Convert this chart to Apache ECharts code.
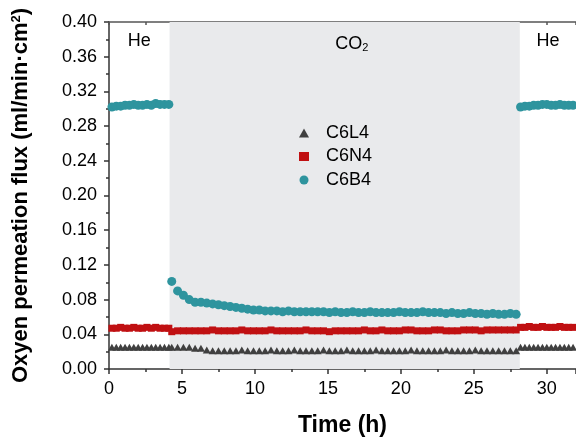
<!DOCTYPE html>
<html>
<head>
<meta charset="utf-8">
<script src="https://cdn.jsdelivr.net/npm/echarts@6.0.0/dist/echarts.min.js"></script>
<style>
  html, body { margin: 0; padding: 0; background: #ffffff; }
  #chart { width: 576px; height: 437px; }
</style>
</head>
<body>
<div id="chart"></div>
<script>
// Sampling times (h): He feed, CO2 feed, He feed again
const timeHours = [
  0.2, 0.5, 0.8, 1.1, 1.4, 1.7, 2.0, 2.3, 2.6, 2.9, 3.2, 3.5, 3.8, 4.1,
  4.3, 4.7, 5.1, 5.5, 5.9, 6.3, 6.7, 7.1, 7.5, 7.9,
  8.3, 8.7, 9.1, 9.5, 9.9, 10.3, 10.7, 11.1, 11.5, 11.9,
  12.3, 12.7, 13.1, 13.5, 13.9, 14.3, 14.7, 15.1, 15.5, 15.9,
  16.3, 16.7, 17.1, 17.5, 17.9, 18.3, 18.7, 19.1, 19.5, 19.9,
  20.3, 20.7, 21.1, 21.5, 21.9, 22.3, 22.7, 23.1, 23.5, 23.9,
  24.3, 24.7, 25.1, 25.5, 25.9, 26.3, 26.7, 27.1, 27.5, 27.9,
  28.2, 28.5, 28.8, 29.1, 29.4, 29.7, 30.0, 30.3, 30.6, 30.9, 31.2, 31.5, 31.8
];

// Oxygen permeation flux, ml/(min·cm2)
const fluxC6L4 = [
  0.025, 0.025, 0.025, 0.025, 0.025, 0.025, 0.025, 0.025, 0.025, 0.025, 0.025, 0.025, 0.025, 0.025,
  0.025, 0.025, 0.025, 0.025, 0.024, 0.024, 0.022, 0.021, 0.021, 0.021,
  0.021, 0.021, 0.022, 0.021, 0.021, 0.021, 0.021, 0.022, 0.021, 0.021,
  0.021, 0.022, 0.021, 0.021, 0.021, 0.021, 0.022, 0.021, 0.021, 0.021,
  0.022, 0.021, 0.021, 0.021, 0.021, 0.022, 0.021, 0.021, 0.021, 0.021,
  0.021, 0.022, 0.021, 0.021, 0.021, 0.021, 0.021, 0.022, 0.021, 0.021,
  0.021, 0.021, 0.022, 0.021, 0.021, 0.021, 0.021, 0.021, 0.021, 0.021,
  0.025, 0.025, 0.025, 0.025, 0.025, 0.025, 0.025, 0.025, 0.025, 0.025, 0.025, 0.025, 0.025
];

const fluxC6N4 = [
  0.047, 0.047, 0.048, 0.047, 0.047, 0.048, 0.047, 0.047, 0.048, 0.047, 0.048, 0.047, 0.047, 0.047,
  0.043, 0.044, 0.044, 0.044, 0.044, 0.044, 0.044, 0.045, 0.044, 0.044,
  0.044, 0.044, 0.045, 0.044, 0.044, 0.044, 0.044, 0.045, 0.044, 0.044,
  0.044, 0.044, 0.044, 0.045, 0.044, 0.044, 0.044, 0.043, 0.044, 0.044,
  0.044, 0.044, 0.044, 0.045, 0.044, 0.044, 0.045, 0.044, 0.044, 0.044,
  0.045, 0.045, 0.044, 0.044, 0.044, 0.045, 0.045, 0.044, 0.044, 0.044,
  0.045, 0.045, 0.045, 0.044, 0.045, 0.045, 0.045, 0.045, 0.045, 0.045,
  0.048, 0.048, 0.049, 0.048, 0.048, 0.049, 0.048, 0.048, 0.048, 0.049, 0.048, 0.048, 0.048
];

const fluxC6B4 = [
  0.302, 0.303, 0.303, 0.304, 0.304, 0.305, 0.304, 0.304, 0.305, 0.304, 0.306, 0.305, 0.305, 0.305,
  0.101, 0.090, 0.085, 0.080, 0.077, 0.077, 0.076, 0.075, 0.074, 0.073,
  0.072, 0.071, 0.070, 0.069, 0.068, 0.068, 0.067, 0.067, 0.067, 0.066,
  0.067, 0.066, 0.066, 0.066, 0.066, 0.066, 0.066, 0.065, 0.066, 0.065,
  0.065, 0.066, 0.065, 0.065, 0.066, 0.065, 0.065, 0.065, 0.065, 0.066,
  0.065, 0.065, 0.065, 0.066, 0.065, 0.065, 0.065, 0.064, 0.065, 0.064,
  0.064, 0.065, 0.064, 0.064, 0.063, 0.064, 0.063, 0.063, 0.064, 0.063,
  0.302, 0.303, 0.303, 0.304, 0.304, 0.305, 0.305, 0.304, 0.304, 0.305, 0.304, 0.304, 0.304
];

const seriesNames = ['C6L4', 'C6N4', 'C6B4'];

// Sweep-gas periods along the time axis
const phaseGas = ['He', 'CO2', 'He'];
const phaseBounds = [[0, 4.15], [4.15, 28.15], [28.15, 32]];

const FONT = '"Liberation Sans", Arial, Helvetica, sans-serif';
const AXIS_COLOR = '#333333';

const toPairs = vals => timeHours.map((t, i) => [t, vals[i]]);

const chart = echarts.init(document.getElementById('chart'), null, { renderer: 'canvas' });

const axisLineStyle = { color: AXIS_COLOR, width: 1.5 };

const option = {
  animation: false,
  backgroundColor: '#ffffff',
  textStyle: { fontFamily: FONT },
  grid: { left: 109, right: 0, top: 22, bottom: 68, outerBoundsMode: 'none' },
  xAxis: [
    {
      type: 'value', min: 0, max: 32, interval: 5, position: 'bottom',
      axisLine: { show: true, onZero: false, lineStyle: axisLineStyle },
      axisTick: { show: true, length: 5, lineStyle: axisLineStyle },
      minorTick: { show: true, splitNumber: 2, length: 3, lineStyle: axisLineStyle },
      splitLine: { show: false },
      axisLabel: { showMaxLabel: false, fontSize: 18, color: '#000', margin: 11, fontFamily: FONT },
      name: 'Time (h)', nameLocation: 'middle', nameGap: 45,
      nameTextStyle: { fontSize: 23, fontWeight: 'bold', color: '#000', fontFamily: FONT }
    },
    {
      type: 'value', min: 0, max: 32, interval: 2.5, position: 'top',
      axisLine: { show: true, onZero: false, lineStyle: { color: '#555', width: 1.5 } },
      axisTick: { show: true, inside: true, length: 3, lineStyle: { color: '#555', width: 1.5 } },
      axisLabel: { show: false },
      splitLine: { show: false }
    }
  ],
  yAxis: {
    type: 'value', min: 0, max: 0.4, interval: 0.04,
    axisLine: { show: true, onZero: false, lineStyle: axisLineStyle },
    axisTick: { show: true, length: 5, lineStyle: axisLineStyle },
    minorTick: { show: true, splitNumber: 2, length: 3, lineStyle: axisLineStyle },
    splitLine: { show: false },
    axisLabel: { formatter: v => v.toFixed(2), fontSize: 18, color: '#000', margin: 12, fontFamily: FONT },
    name: 'Oxyen permeation flux (ml/min·cm{sup|2})',
    nameLocation: 'middle', nameGap: 77,
    nameTextStyle: {
      fontSize: 22, fontWeight: 'bold', color: '#000', fontFamily: FONT,
      rich: { sup: { fontSize: 13, fontWeight: 'bold', color: '#000', verticalAlign: 'top', fontFamily: FONT } }
    }
  },
  legend: {
    orient: 'vertical', left: 294, top: 119,
    itemWidth: 10, itemHeight: 9, itemGap: 5.5,
    textStyle: { fontSize: 18, color: '#000', lineHeight: 18, padding: [0, 0, 0, 12], fontFamily: FONT },
    data: [
      { name: 'C6L4', icon: 'triangle' },
      { name: 'C6N4', icon: 'rect' },
      { name: 'C6B4', icon: 'circle' }
    ]
  },
  series: [
    {
      name: 'phases', type: 'scatter', data: [], z: 1, silent: true,
      markArea: {
        silent: true,
        label: {
          show: true, position: 'insideTop', distance: 10, color: '#000', fontSize: 18, fontFamily: FONT,
          rich: {
            g: { fontSize: 18, color: '#000', fontFamily: FONT },
            s: { fontSize: 11, color: '#000', verticalAlign: 'bottom', fontFamily: FONT }
          }
        },
        data: phaseBounds.map((b, i) => [
          {
            xAxis: b[0],
            name: phaseGas[i] === 'CO2' ? '{g|CO}{s|2}' : phaseGas[i],
            itemStyle: { color: phaseGas[i] === 'CO2' ? '#e9eaec' : 'rgba(0,0,0,0)' },
            label: phaseGas[i] === 'CO2' ? { offset: [7, 3] } : {}
          },
          { xAxis: b[1] }
        ])
      }
    },
    {
      name: seriesNames[0], type: 'scatter', z: 3,
      symbol: 'triangle', symbolSize: [8, 7],
      itemStyle: { color: '#404040', opacity: 1 },
      data: toPairs(fluxC6L4)
    },
    {
      name: seriesNames[1], type: 'scatter', z: 4,
      symbol: 'rect', symbolSize: 7,
      itemStyle: { color: '#c01012', opacity: 1 },
      data: toPairs(fluxC6N4)
    },
    {
      name: seriesNames[2], type: 'scatter', z: 5,
      symbol: 'circle', symbolSize: 9,
      itemStyle: { color: '#2e949e', opacity: 1 },
      data: toPairs(fluxC6B4)
    }
  ]
};

chart.setOption(option);
</script>
</body>
</html>
